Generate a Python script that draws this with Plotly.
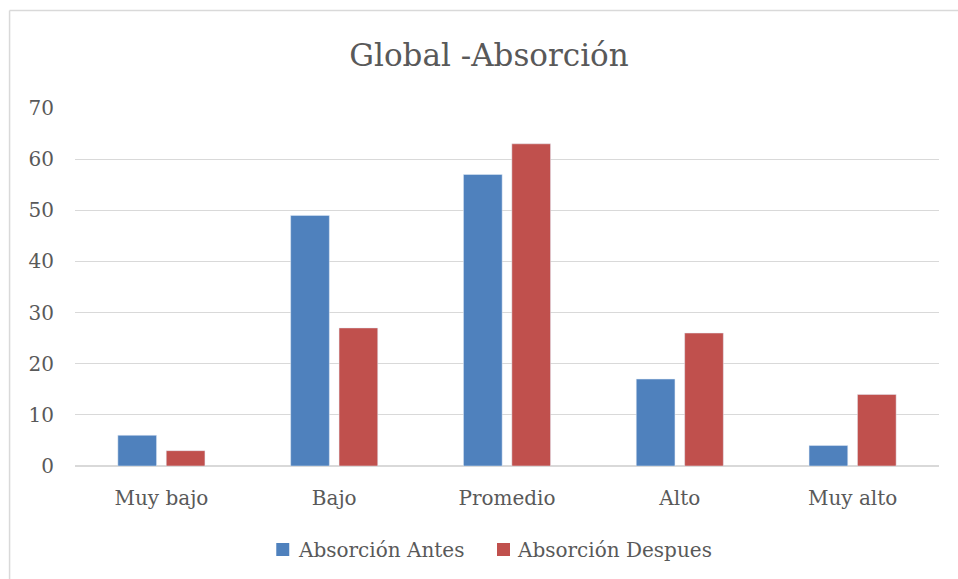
import plotly.graph_objects as go

categories = ["Muy bajo", "Bajo", "Promedio", "Alto", "Muy alto"]
antes = [6, 49, 57, 17, 4]
despues = [3, 27, 63, 26, 14]
series_names = ["Absorción Antes", "Absorción Despues"]
series_colors = ["#4F81BD", "#C0504D"]
title_text = "Global -Absorción"
y_ticks = [0, 10, 20, 30, 40, 50, 60, 70]

FONT = "DejaVu Serif"
TXT = "#595959"

OFF = 0
W, H = 958, 579
L = 74.5 - OFF
R = W - (939.5 - OFF)
T = 108 - OFF
B = H - (466 - OFF)
pw, ph = W - L - R, H - T - B

def px(xp):
    return (xp - OFF - L) / pw

def py(yp):
    return (H - B - (yp - OFF)) / ph

fig = go.Figure()
fig.add_trace(go.Bar(x=categories, y=antes, name=series_names[0],
                     marker=dict(color=series_colors[0]), showlegend=False))
fig.add_trace(go.Bar(x=categories, y=despues, name=series_names[1],
                     marker=dict(color=series_colors[1]), showlegend=False))

# legend (drawn as squares + text)
legend_sq_x = [276, 497]
legend_txt_x = [297, 516]
shapes = [
    dict(type="line", xref="paper", yref="paper", x0=px(9), x1=px(990), y0=py(10.5), y1=py(10.5),
         line=dict(color="#d9d9d9", width=1.5)),
    dict(type="line", xref="paper", yref="paper", x0=px(9), x1=px(9), y0=py(10.5), y1=py(600),
         line=dict(color="#d9d9d9", width=1.5)),
]
annotations = []
for name, col, sx, tx in zip(series_names, series_colors, legend_sq_x, legend_txt_x):
    shapes.append(dict(type="rect", xref="paper", yref="paper",
                       x0=px(sx), x1=px(sx + 13), y0=py(556), y1=py(543),
                       fillcolor=col, line=dict(width=0)))
    annotations.append(dict(text=name, xref="paper", yref="paper", x=px(tx - 1), y=py(549.5),
                            xanchor="left", yanchor="middle", showarrow=False,
                            font=dict(family=FONT, size=20, color=TXT)))

fig.update_layout(
    width=W, height=H,
    margin=dict(l=L, r=R, t=T, b=B),
    paper_bgcolor="white", plot_bgcolor="white",
    font=dict(family=FONT, size=20, color=TXT),
    barmode="group", bargap=0.44, bargroupgap=0.2,
    showlegend=False,
    title=dict(text=title_text, x=(489 - OFF) / W, xanchor="center", xref="container",
               y=1 - (55 - OFF) / H, yanchor="middle", yref="container",
               font=dict(family=FONT, size=31, color=TXT)),
    shapes=shapes,
    annotations=annotations,
)
fig.update_xaxes(showgrid=False, showline=False, ticks="", ticklabelstandoff=18,
                 tickfont=dict(family=FONT, size=20, color=TXT))
fig.update_yaxes(range=[0, 70], tickvals=y_ticks, showgrid=True, gridcolor="#d9d9d9", gridwidth=1,
                 zeroline=True, zerolinecolor="#d9d9d9", zerolinewidth=1.5, showline=False,
                 ticks="", ticklabelstandoff=20, tickfont=dict(family=FONT, size=20, color=TXT))

fig.write_html("out.html", config={"displayModeBar": False},
               post_script="document.body.style.margin='0';document.body.style.overflow='hidden';")
